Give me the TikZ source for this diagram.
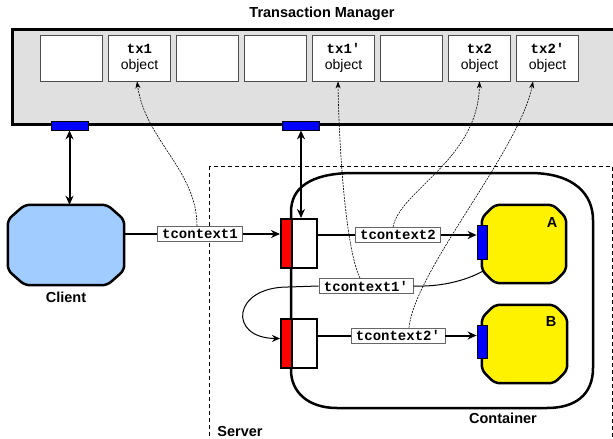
\documentclass[tikz,border=0pt]{standalone}
\usepackage{fontspec}
\setmainfont{Liberation Sans}
\setmonofont{Liberation Mono}
\usetikzlibrary{arrows.meta,calc}
\definecolor{clientblue}{RGB}{160,204,255}
\definecolor{tmgrey}{RGB}{224,224,224}
\newcommand\tmono[1]{{\ttfamily\bfseries #1}}
\begin{document}
\begin{tikzpicture}[x=1pt,y=-1pt,
  tmbox/.style={draw=black, line width=2.5pt, fill=tmgrey, inner sep=0pt},
  obj/.style={draw=black!70, line width=0.8pt, fill=white, minimum width=62pt, minimum height=46pt, inner sep=0pt, align=center, font=\fontsize{14}{16}\selectfont},
  port/.style={draw=black, line width=0.8pt, fill=blue, inner sep=0pt},
  ctx/.style={draw=black!60, line width=0.8pt, fill=white, font=\ttfamily\bfseries\fontsize{14}{14}\selectfont, inner xsep=5pt, inner ysep=0pt, minimum height=15pt},
  lbl/.style={font=\bfseries\fontsize{14.5}{15}\selectfont},
  shapebox/.style={inner sep=0pt},
  chamf/.style={draw=black, line width=2.5pt, rounded corners=5pt},
  redbox/.style={draw=black, line width=2pt, fill=red, minimum width=11pt, minimum height=49pt, inner sep=0pt},
  whitebox/.style={draw=black, line width=2pt, fill=white, minimum width=25pt, minimum height=49pt, inner sep=0pt},
  thickline/.style={line width=2pt},
  thickarr/.style={line width=2pt, -{Stealth[length=9pt,width=8pt]}},
  dbl/.style={line width=2pt, {Stealth[length=9pt,width=8pt]}-{Stealth[length=9pt,width=8pt]}},
  link/.style={dash pattern=on 2pt off 1pt, line width=0.6pt, -{Stealth[length=7pt,width=5pt]}},
  thinarr/.style={line width=1pt, -{Stealth[length=8pt,width=7pt]}}
]
\useasboundingbox (0,0) rectangle (613,439);

% Transaction manager
\node[lbl] (title) at (322,14) {Transaction Manager};
\node[tmbox, minimum width=614pt, minimum height=95pt, anchor=north west] (tm) at (11,28) {};
\node[obj] (o1) at (71.5,58) {};
\node[obj] (o2) at (139.5,58) {\tmono{tx1}\\object};
\node[obj] (o3) at (207.5,58) {};
\node[obj] (o4) at (275.5,58) {};
\node[obj] (o5) at (343.5,58) {\tmono{tx1'}\\object};
\node[obj] (o6) at (411.5,58) {};
\node[obj] (o7) at (479.5,58) {\tmono{tx2}\\object};
\node[obj] (o8) at (547.5,58) {\tmono{tx2'}\\object};
\node[port, minimum width=37pt, minimum height=9pt] (p1) at (69.5,125.5) {};
\node[port, minimum width=37pt, minimum height=9pt] (p2) at (301,125.5) {};

% Server
\draw[dash pattern=on 4pt off 3pt, line width=0.8pt] (209,166) rectangle (612,450);
\node[lbl] (server) at (240,432) {Server};

% Container
\draw[line width=2.5pt] (291,370) -- (291,212)
  .. controls (291,188) and (310,174) .. (350,173)
  -- (530,173)
  .. controls (575,173) and (593,195) .. (593,220)
  -- (593,368)
  .. controls (593,395) and (575,408) .. (547,408)
  -- (337,408)
  .. controls (308,408) and (291,392) .. (291,370) -- cycle;
\node[lbl] (container) at (503,418) {Container};

% Client
\node[shapebox, minimum width=116pt, minimum height=80pt] (client) at (66,245) {};
\draw[chamf, fill=clientblue]
  ([xshift=17pt]client.north west) -- ([xshift=-17pt]client.north east)
  -- ([yshift=-15pt]client.north east) -- ([yshift=15pt]client.south east)
  -- ([xshift=-17pt]client.south east) -- ([xshift=17pt]client.south west)
  -- ([yshift=15pt]client.south west) -- ([yshift=-15pt]client.north west) -- cycle;
\node[lbl] (clientlbl) at (66,297) {Client};

% A and B
\node[shapebox, minimum width=84pt, minimum height=78pt] (A) at (524,244) {};
\node[shapebox, minimum width=85pt, minimum height=78pt] (B) at (524.5,344) {};
\foreach \n in {A,B}{
  \draw[chamf, fill=yellow]
    ([xshift=13pt]\n.north west) -- ([xshift=-13pt]\n.north east)
    -- ([yshift=-13pt]\n.north east) -- ([yshift=13pt]\n.south east)
    -- ([xshift=-13pt]\n.south east) -- ([xshift=13pt]\n.south west)
    -- ([yshift=13pt]\n.south west) -- ([yshift=-13pt]\n.north west) -- cycle;
}
\node[lbl] (Alabel) at (552,223) {A};
\node[lbl] (Blabel) at (551,322) {B};
\node[port, minimum width=10pt, minimum height=34pt] (pA) at (482,242) {};
\node[port, minimum width=10pt, minimum height=33pt] (pB) at (482,341.5) {};

% red/white interceptors
\node[redbox] (rA) at (286.5,243.5) {};
\node[whitebox] (wA) at (304.5,243.5) {};
\node[redbox] (rB) at (286.5,343.5) {};
\node[whitebox] (wB) at (304.5,343.5) {};

% vertical double arrows
\draw[dbl] (p1.south) -- (p1.south |- client.north);
\draw[dbl] (p2.south) -- (p2.south |- wA.north);

% context labels
\node[ctx] (t1) at (200,234) {tcontext1};
\node[ctx] (t2) at (398,235) {tcontext2};
\node[ctx] (t1p) at (366,286) {tcontext1'};
\node[ctx] (t2p) at (398,335.5) {tcontext2'};

\draw[thickline] (client.east |- t1) -- (t1.west);
\draw[thickarr] (t1.east) -- (rA.west |- t1);
\draw[thickline] (wA.east |- t2) -- (t2.west);
\draw[thickarr] (t2.east) -- (pA.west |- t2);
\draw[thickline] (wB.east |- t2p) -- (t2p.west);
\draw[thickarr] (t2p.east) -- (pB.west |- t2p);

% tcontext1' path
\coordinate (aout) at ($(A.south west)+(1,-12)$);
\coordinate (loop) at (288,287);
\draw[line width=1pt] (aout) .. controls (465,281) and (440,287) .. (t1p.east);
\draw[thinarr] (t1p.west) -- (loop) .. controls (232,287) and (228,338) .. ([yshift=5pt]rB.west);

% dashed links to TM objects
\draw[link] ([xshift=-3pt]t1.north) .. controls (197,170) and (145,140) .. ([xshift=-2.5pt]o2.south);
\draw[link] ([xshift=-6pt]t1p.north) .. controls (346,250) and (339,150) .. ([xshift=-5.5pt]o5.south);
\draw[link] ([xshift=-5pt]t2.north) .. controls (400,190) and (478,160) .. (o7.south);
\draw[link] ([xshift=11pt]t2p.north) .. controls (415,270) and (520,150) .. ([xshift=-14.5pt]o8.south);
\end{tikzpicture}
\end{document}
